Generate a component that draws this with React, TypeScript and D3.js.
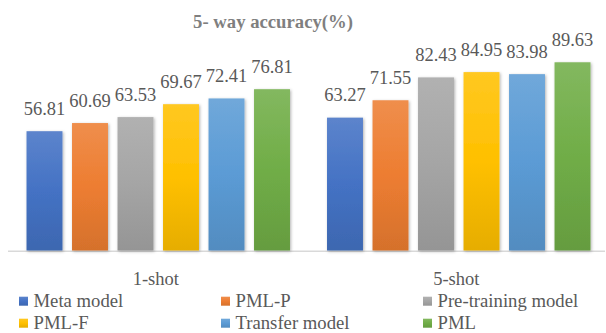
import React from "react";
import * as d3 from "d3";

const categories = ["1-shot", "5-shot"];
const seriesNames = ["Meta model", "PML-P", "Pre-training model", "PML-F", "Transfer model", "PML"];
const metaModel = [56.81, 63.27];
const pmlP = [60.69, 71.55];
const preTraining = [63.53, 82.43];
const pmlF = [69.67, 84.95];
const transfer = [72.41, 83.98];
const pml = [76.81, 89.63];
const seriesValues = [metaModel, pmlP, preTraining, pmlF, transfer, pml];
const baseColors = ["#4472C4", "#ED7D31", "#A5A5A5", "#FFC000", "#5B9BD5", "#70AD47"];
const yDomain = [0, 100];
const title = "5- way accuracy(%)";

const W = 606;
const H = 333;
const FONT = "Liberation Serif, Times New Roman, DejaVu Serif, serif";

export default function App() {
  const x0 = d3.scaleBand<string>().domain(categories).range([8, 609]).paddingInner(0).paddingOuter(0);
  const x1 = d3
    .scaleBand<string>()
    .domain(seriesNames)
    .range([0, x0.bandwidth()])
    .paddingInner(0.21)
    .paddingOuter(0.407);
  const y = d3.scaleLinear().domain(yDomain).range([250.5, 40.5]);

  const light = (c: string) => d3.interpolateRgb(c, "#ffffff")(0.13);
  const dark = (c: string) => d3.interpolateRgb(c, "#000000")(0.1);

  const legendCols = [19, 221, 423];
  const legendRows = [306.7, 328.7];
  const ts = { fontFamily: FONT };

  return (
    <svg
      width={W}
      height={H}
      style={{ position: "absolute", left: 0, top: 0, background: "#fff", fontFamily: FONT }}
    >
      <defs>
        {baseColors.map((c, i) => (
          <linearGradient key={i} id={`g${i}`} x1="0" y1="0" x2="0" y2="1">
            <stop offset="0" stopColor={light(c)} />
            <stop offset="0.5" stopColor={c} />
            <stop offset="1" stopColor={dark(c)} />
          </linearGradient>
        ))}
        <filter id="shadow" x="-20%" y="-10%" width="140%" height="120%">
          <feDropShadow dx="1" dy="1" stdDeviation="1.5" floodColor="#000" floodOpacity="0.3" />
        </filter>
      </defs>
      <rect width={W} height={H} fill="#fff" />
      <text x={273} y={28.3} textAnchor="middle" fontSize={18.7} fontWeight="bold" fill="#7f7f7f" style={ts}>
        {title}
      </text>
      <line x1={8} x2={605} y1={251.3} y2={251.3} stroke="#d9d9d9" strokeWidth={1.5} />
      {categories.map((cat, ci) => (
        <g key={cat}>
          {seriesNames.map((s, si) => {
            const v = seriesValues[si][ci];
            const bx = (x0(cat) ?? 0) + (x1(s) ?? 0);
            return (
              <g key={s}>
                <rect
                  x={bx}
                  y={y(v)}
                  width={x1.bandwidth()}
                  height={y(0) - y(v)}
                  fill={`url(#g${si})`}
                  filter="url(#shadow)"
                />
                <text
                  x={bx + x1.bandwidth() / 2}
                  y={y(v) - 16.5}
                  textAnchor="middle"
                  fontSize={18.5}
                  fill="#595959"
                  style={ts}
                >
                  {v.toFixed(2)}
                </text>
              </g>
            );
          })}
          <text
            x={(x0(cat) ?? 0) + x0.bandwidth() / 2 - 2.5}
            y={285}
            textAnchor="middle"
            fontSize={18.5}
            fill="#595959"
            style={ts}
          >
            {cat}
          </text>
        </g>
      ))}
      {seriesNames.map((s, i) => {
        const col = i % 3;
        const row = Math.floor(i / 3);
        const lx = legendCols[col];
        const ly = legendRows[row];
        return (
          <g key={s}>
            <rect x={lx} y={ly - 10} width={9} height={9} fill={`url(#g${i})`} />
            <text x={lx + 14.5} y={ly} fontSize={18.7} fill="#595959" style={ts}>
              {s}
            </text>
          </g>
        );
      })}
    </svg>
  );
}
